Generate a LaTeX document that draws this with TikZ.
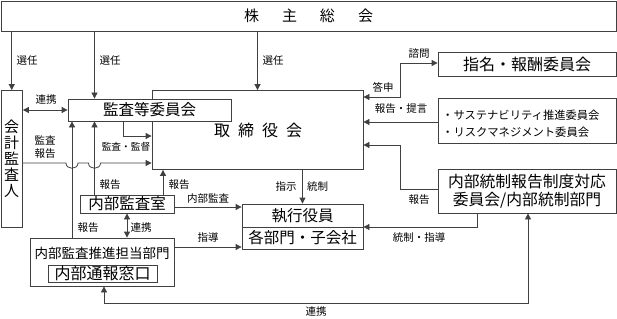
\documentclass[tikz,border=0pt]{standalone}
\usepackage{fontspec}
\setmainfont{Noto Sans CJK JP}
\usetikzlibrary{arrows.meta,calc}
\begin{document}
\begin{tikzpicture}[x=1pt,y=-1pt,
  line/.style={draw=black!75, line width=0.8pt},
  arr/.style={line, -{Triangle[length=6pt,width=6pt]}},
  darr/.style={line, {Triangle[length=6pt,width=6pt]}-{Triangle[length=6pt,width=6pt]}},
  box/.style n args={2}{draw=black!75, line width=0.8pt, fill=white, inner sep=0pt,
     minimum width=#1, minimum height=#2},
  big/.style={font=\fontsize{15.5}{18}\selectfont},
  lbl/.style={font=\fontsize{10.5}{13}\selectfont, inner sep=0pt, align=center}
]
\useasboundingbox (0,0) rectangle (617,318);

% boxes
\node[box={615}{30}, font=\fontsize{15}{18}\selectfont] (sh) at (308.5,16)
  {株\hspace{23pt}主\hspace{23pt}総\hspace{23pt}会};
\node[box={21.5}{136.5}, align=center, font=\fontsize{15}{16}\selectfont] (kaikei) at (11.75,158.75)
  {会\\計\\監\\査\\人};
\node[box={211}{79}] (tori) at (257.5,130) {};
\node[font=\fontsize{16}{18}\selectfont, inner sep=0pt] (toritxt) at (258,130)
  {取\hspace{8pt}締\hspace{8pt}役\hspace{8pt}会};
\node[box={163}{22}, big] (kansa) at (149.5,110) {監査等委員会};
\node[box={94}{18}, big] (naibu) at (127,204) {内部監査室};
\node[box={121}{23}, big] (shikko) at (302.5,215.5) {執行役員};
\node[box={121}{22}, big] (kaku) at (302.5,238) {各部門・子会社};
\node[box={144}{48}] (suishin) at (102,262) {};
\node[font=\fontsize{13.5}{16}\selectfont, inner sep=0pt] (suitxt) at (102,253) {内部監査推進担当部門};
\node[box={109}{17}, font=\fontsize{16}{18}\selectfont] (tsuho) at (102.5,273.5) {内部通報窓口};
\node[box={178}{24}, font=\fontsize{16}{18}\selectfont] (shimei) at (527,64) {指名・報酬委員会};
\node[box={178}{45}] (sust) at (527,120.5) {};
\node[anchor=west, align=left, inner sep=0pt, font=\fontsize{11.3}{17}\selectfont] (susttxt) at (442,123.5)
  {・サステナビリティ推進委員会\\・リスクマネジメント委員会};
\node[box={178}{44}, align=center, font=\fontsize{15.8}{18}\selectfont] (naitou) at (527,191)
  {内部統制報告制度対応\\委員会/内部統制部門};

% helper coordinates
\coordinate (xA) at (94.5,0);
\coordinate (xB) at (72,0);
\coordinate (xC) at (163,0);
\coordinate (kk) at (123,136);
\coordinate (jy) at (0,163);
\coordinate (ya) at (0,207);
\coordinate (yb) at (0,247);
\coordinate (yc) at (0,122);
\coordinate (r1) at (400,63);
\coordinate (r2) at (400,97);
\coordinate (r3) at (400,145);
\coordinate (r4) at (400,189);
\coordinate (t1) at (477,227);
\coordinate (b1) at (104,303);
\coordinate (b2) at (528,303);

% connectors
\draw[arr] (kaikei |- sh.south) -- (kaikei.north);
\draw[arr] (xA |- sh.south) -- (xA |- kansa.north);
\draw[arr] (tori |- sh.south) -- (tori.north);
\draw[darr] (kansa.west -| kaikei.east) -- (kansa.west);
\draw[arr] (kk |- kansa.south) -- (kk) -- (kk -| tori.west);
\draw[arr] (kaikei.east |- jy) -- (66,163) .. controls (66,170) and (78,170) .. (78,163)
  -- (88.5,163) .. controls (88.5,170) and (100.5,170) .. (100.5,163) -- (tori.west |- jy);
\draw[arr] (xA |- naibu.north) -- (xA |- kansa.south);
\draw[arr] (xB |- suishin.north) -- (xB |- kansa.south);
\draw[arr] (xC |- naibu.north) -- (xC |- tori.south);
\draw[arr] (naibu.east |- ya) -- (shikko.west |- ya);
\draw[arr] (shikko |- tori.south) -- (shikko.north);
\draw[darr] (naibu.south) -- (naibu.south |- suishin.north);
\draw[arr] (suishin.east |- yb) -- (kaku.west |- yb);
\draw[darr] (b1 |- suishin.south) -- (b1) -- (b2) -- (b2 |- naitou.south);
\draw[arr] (t1 |- naitou.south) -- (t1) -- (t1 -| shikko.east);
\draw[arr] (naitou.west |- r4) -- (r4) -- (r3) -- (r3 -| tori.east);
\draw[arr] (sust.west |- yc) -- (tori.east |- yc);
\draw[darr] (r2 -| tori.east) -- (r2) -- (r1) -- (shimei.west |- r1);

% labels
\node[lbl] (l1) at (27,61) {選任};
\node[lbl] (l2) at (110,61) {選任};
\node[lbl] (l3) at (273,61) {選任};
\node[lbl] (l4) at (46,100) {連携};
\node[lbl, font=\fontsize{10.5}{13}\selectfont] (l5) at (45,147.5) {監査\\報告};
\node[lbl, font=\fontsize{9.7}{12}\selectfont] (l6) at (126,147) {監査・監督};
\node[lbl] (l7) at (110,185) {報告};
\node[lbl] (l8) at (179,185) {報告};
\node[lbl] (l9) at (208,199) {内部監査};
\node[lbl] (l10) at (286,187) {指示};
\node[lbl] (l11) at (317.5,187) {統制};
\node[lbl] (l12) at (141,228) {連携};
\node[lbl] (l13) at (88,228) {報告};
\node[lbl] (l14) at (208,237) {指導};
\node[lbl] (l15) at (316,312) {連携};
\node[lbl] (l16) at (419,54) {諮問};
\node[lbl] (l17) at (383,87) {答申};
\node[lbl] (l18) at (401,109) {報告・提言};
\node[lbl] (l19) at (419,200) {報告};
\node[lbl] (l20) at (419,238) {統制・指導};
\end{tikzpicture}
\end{document}
